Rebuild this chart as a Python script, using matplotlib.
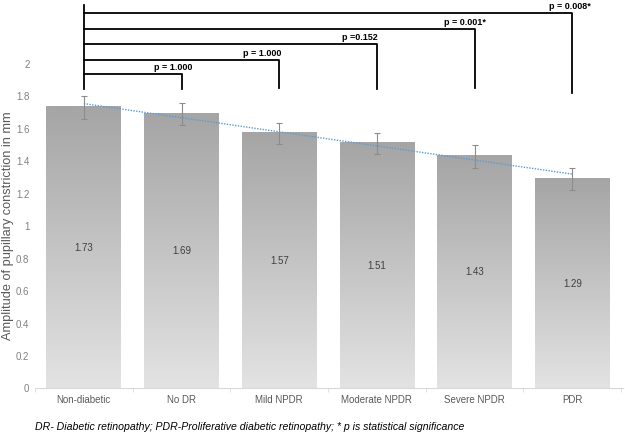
import matplotlib
matplotlib.use('Agg')
import matplotlib.pyplot as plt
import numpy as np

plt.rcParams['font.family'] = ['Liberation Sans', 'DejaVu Sans']

# data
groups = ['Non-diabetic', 'No DR', 'Mild NPDR', 'Moderate NPDR', 'Severe NPDR', 'PDR']
means = [1.73, 1.69, 1.57, 1.51, 1.43, 1.29]
errs = [0.07, 0.07, 0.065, 0.065, 0.07, 0.067]
p_labels = ['p = 1.000', 'p = 1.000', 'p =0.152', 'p = 0.001*', 'p = 0.008*']

# bracket geometry (data units)
bracket_levels = [1.935, 2.022, 2.12, 2.212, 2.31]
bracket_ends = [1.843, 1.848, 1.843, 1.848, 1.818]
label_x = [0.91, 1.83, 2.83, 3.9, 4.97]

fig = plt.figure(figsize=(6.25, 4.32), dpi=100)
ax = fig.add_axes([0.056, 0.1007, 0.941, 0.895])
ax.set_xlim(-0.49, 5.52)
ax.set_ylim(0, 2.38)

x = np.arange(len(groups))
w = 0.765
grad = np.linspace(0, 1, 256).reshape(-1, 1)
cmap = matplotlib.colors.LinearSegmentedColormap.from_list('g', ['#e3e3e3', '#a5a5a5'])
for xi, m in zip(x, means):
    ax.imshow(grad, cmap=cmap, aspect='auto', origin='lower',
              extent=[xi - w / 2, xi + w / 2, 0, m], zorder=1)
    ax.text(xi, m / 2, f'{m:.2f}', ha='center', va='center', fontsize=7, color='#404040', zorder=3)

ax.errorbar(x, means, yerr=errs, fmt='none', ecolor='#8c8c8c', elinewidth=0.8,
            capsize=2.5, capthick=0.8, zorder=4)

# linear trend line like excel
k, b = np.polyfit(x, means, 1)
ax.plot([0, 5], [b, b + 5 * k], color='#5b9bd5', linestyle=(0, (1, 1)), linewidth=1.0, zorder=5)

# significance brackets
ax.plot([0, 0], [bracket_ends[0], 2.36], color='black', lw=1.3, clip_on=False, zorder=6)
for i, (lvl, end, lab, lx) in enumerate(zip(bracket_levels, bracket_ends, p_labels, label_x)):
    xr = i + 1
    ax.plot([0, xr, xr], [lvl, lvl, end], color='black', lw=1.3, clip_on=False, zorder=6)
    ax.text(lx, lvl + 0.015, lab, ha='center', va='bottom', fontsize=6.5,
            fontweight='bold', color='black')

ax.set_xticks(x)
ax.set_xticklabels(groups, fontsize=7, color='#595959')
ax.set_xticks(np.arange(-0.5, 6, 1), minor=True)
ax.tick_params(axis='x', which='major', length=0, pad=5)
ax.tick_params(axis='x', which='minor', length=3, color='#d9d9d9')
ax.set_yticks(np.arange(0, 2.01, 0.2))
ax.set_yticklabels(['0', '0.2', '0.4', '0.6', '0.8', '1', '1.2', '1.4', '1.6', '1.8', '2'],
                   fontsize=7, color='#808080')
ax.tick_params(axis='y', length=0, pad=4)
for s in ['top', 'right', 'left']:
    ax.spines[s].set_visible(False)
ax.spines['bottom'].set_color('#d9d9d9')
ax.set_ylabel('Amplitude of pupillary constriction in mm', fontsize=9.2, color='#595959')
ax.yaxis.set_label_coords(-0.036, 1.0 / 2.38)

fig.text(0.056, 0.004, 'DR- Diabetic retinopathy; PDR-Proliferative diabetic retinopathy; * p is statistical significance',
         fontsize=7.6, style='italic', color='black')

fig.savefig('out.png', dpi=100)
